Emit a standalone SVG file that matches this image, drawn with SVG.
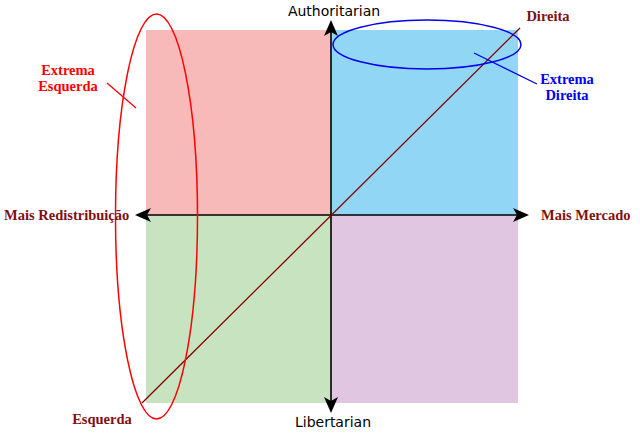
<svg xmlns="http://www.w3.org/2000/svg" width="640" height="437" viewBox="0 0 640 437">
<style>
.serif{font-family:"Liberation Serif","Times New Roman",serif;font-weight:bold;font-size:14.5px}
.sans{font-family:"DejaVu Sans",sans-serif;font-size:14px;fill:#000}
.dr{fill:#801010}
.axis{stroke:#000;stroke-width:1.6;fill:none}
.head{fill:#000}
</style>
<rect width="640" height="437" fill="#fff"/>
<g id="quadrants">
<rect id="q-auth-left" x="146" y="30" width="185" height="185" fill="#f8b9b9"/>
<rect id="q-auth-right" x="331" y="30" width="187" height="185" fill="#91d7f5"/>
<rect id="q-lib-left" x="146" y="215" width="185" height="188" fill="#c8e3bf"/>
<rect id="q-lib-right" x="331" y="215" width="187" height="188" fill="#e0c6e0"/>
</g>
<g id="connectors">
<line class="axis" x1="331" y1="30" x2="331" y2="403"/>
<line class="axis" x1="142" y1="215" x2="522" y2="215"/>
<path class="head" d="M331,20 L338,36 L331,32 L324,36 Z"/>
<path class="head" d="M331,413 L338,397 L331,401 L324,397 Z"/>
<path class="head" d="M135,215 L151,208 L147,215 L151,222 Z"/>
<path class="head" d="M529,215 L513,208 L517,215 L513,222 Z"/>
<line x1="142" y1="403" x2="520" y2="28" stroke="#800000" stroke-width="1.3"/>
<ellipse cx="156.5" cy="216.5" rx="41" ry="202.5" fill="none" stroke="#ff0000" stroke-width="1.5"/>
<line x1="107" y1="83" x2="136" y2="108" stroke="#ff0000" stroke-width="1.3"/>
<ellipse cx="427" cy="44.5" rx="94" ry="24.5" fill="none" stroke="#0000ee" stroke-width="1.5"/>
<line x1="474" y1="53" x2="537" y2="84" stroke="#0000ee" stroke-width="1.3"/>
</g>
<g id="label-authoritarian"><text class="sans" x="334" y="16" text-anchor="middle">Authoritarian</text></g>
<g id="label-libertarian"><text class="sans" x="333" y="427" text-anchor="middle">Libertarian</text></g>
<g id="label-redistribuicao"><text class="serif dr" x="4" y="220">Mais Redistribuição</text></g>
<g id="label-mercado"><text class="serif dr" x="541" y="220">Mais Mercado</text></g>
<g id="label-direita"><text class="serif dr" x="548" y="21" text-anchor="middle">Direita</text></g>
<g id="label-esquerda"><text class="serif dr" x="102" y="424" text-anchor="middle">Esquerda</text></g>
<g id="label-extrema-esquerda"><text class="serif" fill="#ff0000" text-anchor="middle"><tspan x="68" y="75">Extrema</tspan><tspan x="68" y="91">Esquerda</tspan></text></g>
<g id="label-extrema-direita"><text class="serif" fill="#0000ee" text-anchor="middle"><tspan x="567" y="84">Extrema</tspan><tspan x="567" y="100">Direita</tspan></text></g>
</svg>
